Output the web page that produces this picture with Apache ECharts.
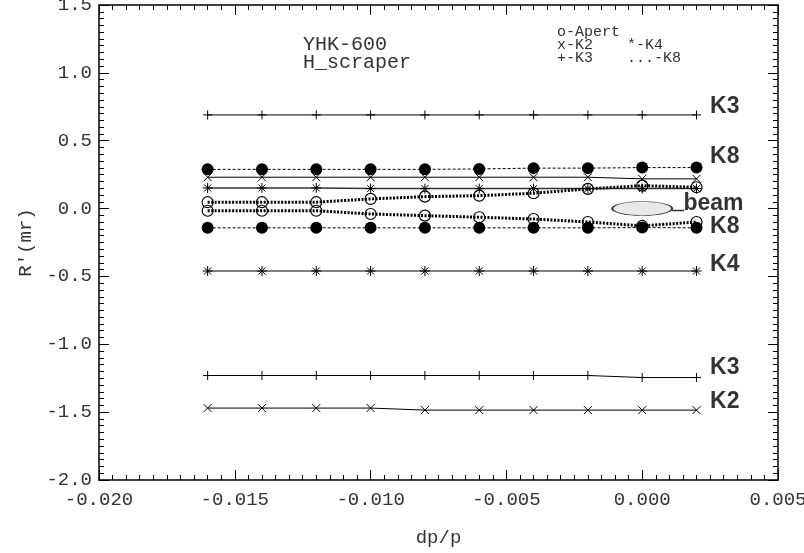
<!DOCTYPE html>
<html>
<head>
<meta charset="utf-8">
<title>YHK-600 H_scraper</title>
<script src="https://cdn.jsdelivr.net/npm/echarts@6/dist/echarts.min.js"></script>
<style>
  html, body { margin: 0; padding: 0; background: #fff; }
  #chart { width: 804px; height: 553px; }
</style>
</head>
<body>
<div id="chart"></div>
<script>
// Momentum deviation values where each envelope was evaluated
const dpp = [-0.016, -0.014, -0.012, -0.010, -0.008, -0.006, -0.004, -0.002, 0.000, 0.002];

// Angular limits R' (mrad) per element, upper and lower branch
const k3Upper = [0.69, 0.69, 0.69, 0.69, 0.69, 0.69, 0.69, 0.69, 0.69, 0.69];
const k3Lower = [-1.23, -1.23, -1.23, -1.23, -1.23, -1.23, -1.23, -1.23, -1.245, -1.245];
const k2Upper = [0.231, 0.231, 0.231, 0.231, 0.231, 0.231, 0.231, 0.231, 0.219, 0.219];
const k2Lower = [-1.47, -1.47, -1.47, -1.47, -1.485, -1.485, -1.485, -1.485, -1.485, -1.485];
const k4Upper = [0.152, 0.152, 0.152, 0.147, 0.147, 0.147, 0.147, 0.147, 0.147, 0.147];
const k4Lower = [-0.46, -0.46, -0.46, -0.46, -0.46, -0.46, -0.46, -0.46, -0.46, -0.46];
const k8Upper = [0.289, 0.289, 0.289, 0.289, 0.289, 0.292, 0.298, 0.298, 0.302, 0.302];
const k8Lower = [-0.142, -0.142, -0.142, -0.142, -0.142, -0.142, -0.142, -0.142, -0.14, -0.142];
const apertUpper = [0.047, 0.047, 0.047, 0.071, 0.088, 0.095, 0.113, 0.145, 0.169, 0.157];
const apertLower = [-0.016, -0.016, -0.016, -0.04, -0.052, -0.064, -0.077, -0.099, -0.128, -0.099];

// Beam ellipse centre and its leader line
const beamCentre = [0.0, 0.0];
const beamLeader = [[0.0011, -0.015], [0.00155, -0.015]];

// Element names written beside the curves, anchored in data units
const tagNames = ['K3', 'K8', 'beam', 'K8', 'K4', 'K3', 'K2'];
const tagAnchors = [
  [0.0025, 0.752], [0.0025, 0.382], [0.00152, 0.038], [0.0025, -0.132],
  [0.0025, -0.412], [0.0025, -1.17], [0.0025, -1.422]
];

// Axis ranges and steps
const xRange = [-0.020, 0.005];
const yRange = [-2.0, 1.5];
const xStep = 0.005;
const yStep = 0.5;

const pairs = (ys) => dpp.map((x, i) => [x, ys[i]]);

const MONO = "'Liberation Mono', 'DejaVu Sans Mono', monospace";
const INK = '#000';
const TXT = '#333';

const SYM_PLUS = 'path://M5,0L5,10M0,5L10,5';
const SYM_CROSS = 'path://M0,0L10,10M10,0L0,10';
const SYM_STAR = 'path://M0,5L10,5M5,0L5,10M1.5,1.5L8.5,8.5M8.5,1.5L1.5,8.5';
const SYM_ELLIPSE = 'path://M0,5A5,5 0 1 1 10,5A5,5 0 1 1 0,5Z';

function strokedLine(name, ys, symbol, size, opts) {
  opts = opts || {};
  return {
    name: name,
    type: 'line',
    data: pairs(ys),
    symbol: symbol,
    symbolSize: size,
    showSymbol: true,
    silent: true,
    z: opts.z || 2,
    lineStyle: { color: opts.lineColor || INK, width: opts.width || 1, type: opts.type || 'solid' },
    itemStyle: opts.itemStyle || { color: 'rgba(0,0,0,0)', borderColor: INK, borderWidth: 1 },
    emphasis: { disabled: true }
  };
}

const filled = { color: INK, borderWidth: 0 };
const hollow = { color: 'rgba(0,0,0,0)', borderColor: INK, borderWidth: 1.2 };

const axisCommon = {
  type: 'value',
  axisLine: { show: true, onZero: false, lineStyle: { color: INK, width: 1.5 } },
  axisTick: { show: true, inside: true, length: 10, lineStyle: { color: INK, width: 1 } },
  minorTick: { show: true, splitNumber: 10, length: 5, lineStyle: { color: INK, width: 1 } },
  splitLine: { show: false },
  minorSplitLine: { show: false }
};

const option = {
  animation: false,
  backgroundColor: '#fff',
  grid: { left: 99, right: 26, top: 5, bottom: 73, containLabel: false, outerBoundsMode: 'none' },
  xAxis: [
    Object.assign({}, axisCommon, {
      position: 'bottom',
      min: xRange[0], max: xRange[1], interval: xStep,
      name: 'dp/p',
      nameLocation: 'middle',
      nameGap: 48,
      nameTextStyle: { fontFamily: MONO, fontSize: 19, color: TXT },
      axisLabel: {
        margin: 10, fontFamily: MONO, fontSize: 19, color: TXT,
        formatter: (v) => v.toFixed(3)
      }
    }),
    Object.assign({}, axisCommon, {
      position: 'top',
      min: xRange[0], max: xRange[1], interval: xStep,
      axisLabel: { show: false }
    })
  ],
  yAxis: [
    Object.assign({}, axisCommon, {
      position: 'left',
      min: yRange[0], max: yRange[1], interval: yStep,
      name: "R'(mr)",
      nameLocation: 'middle',
      nameGap: 62,
      nameRotate: 90,
      nameTextStyle: { fontFamily: MONO, fontSize: 19, color: TXT },
      axisLabel: {
        margin: 7, fontFamily: MONO, fontSize: 19, color: TXT,
        formatter: (v) => v.toFixed(1)
      }
    }),
    Object.assign({}, axisCommon, {
      position: 'right',
      min: yRange[0], max: yRange[1], interval: yStep,
      axisLabel: { show: false }
    })
  ],
  graphic: [
    { type: 'text', left: 303, top: 35, silent: true,
      style: { text: 'YHK-600', font: "20px " + MONO, fill: TXT } },
    { type: 'text', left: 303, top: 53, silent: true,
      style: { text: 'H_scraper', font: "20px " + MONO, fill: TXT } },
    { type: 'text', left: 557, top: 25, silent: true,
      style: { text: 'o-Apert', font: "15px " + MONO, fill: TXT } },
    { type: 'text', left: 557, top: 38, silent: true,
      style: { text: 'x-K2', font: "15px " + MONO, fill: TXT } },
    { type: 'text', left: 627, top: 38, silent: true,
      style: { text: '*-K4', font: "15px " + MONO, fill: TXT } },
    { type: 'text', left: 557, top: 51, silent: true,
      style: { text: '+-K3', font: "15px " + MONO, fill: TXT } },
    { type: 'text', left: 627, top: 51, silent: true,
      style: { text: '...-K8', font: "15px " + MONO, fill: TXT } }
  ],
  series: [
    strokedLine('K3 upper', k3Upper, SYM_PLUS, 9),
    strokedLine('K3 lower', k3Lower, SYM_PLUS, 9),
    strokedLine('K2 upper', k2Upper, SYM_CROSS, 8),
    strokedLine('K2 lower', k2Lower, SYM_CROSS, 8),
    strokedLine('K4 upper', k4Upper, SYM_STAR, 10, { width: 1.5, lineColor: '#333' }),
    strokedLine('K4 lower', k4Lower, SYM_STAR, 10),
    strokedLine('Apert upper', apertUpper, 'circle', 11,
      { width: 3, type: [2, 1.5], itemStyle: hollow, z: 3 }),
    strokedLine('Apert lower', apertLower, 'circle', 11,
      { width: 3, type: [2, 1.5], itemStyle: hollow, z: 3 }),
    strokedLine('K8 upper', k8Upper, 'circle', 12,
      { width: 1, type: [3, 2], itemStyle: filled, z: 4 }),
    strokedLine('K8 lower', k8Lower, 'circle', 12,
      { width: 1, type: [3, 2], itemStyle: filled, z: 4 }),
    {
      name: 'beam',
      type: 'scatter',
      data: [beamCentre],
      symbol: SYM_ELLIPSE,
      symbolKeepAspect: false,
      symbolSize: [60, 14],
      silent: true,
      z: 5,
      itemStyle: {
        color: '#e4e4e4', borderColor: INK, borderWidth: 1,
        decal: {
          symbol: 'rect', symbolSize: 1, color: '#666', backgroundColor: '#f2f2f2',
          dashArrayX: [1, 2], dashArrayY: [1, 2], rotation: 0
        }
      },
      emphasis: { disabled: true }
    },
    {
      name: 'beam leader',
      type: 'line',
      data: beamLeader,
      symbol: 'none',
      silent: true,
      z: 5,
      lineStyle: { color: '#333', width: 1.5 },
      emphasis: { disabled: true }
    },
    {
      name: 'tags',
      type: 'scatter',
      data: tagAnchors.map((p, i) => ({ value: p, name: tagNames[i] })),
      symbolSize: 0,
      silent: true,
      z: 6,
      label: {
        show: true,
        position: 'right',
        distance: 0,
        formatter: '{b}',
        fontFamily: "'Liberation Sans', Arial, sans-serif",
        fontWeight: 'bold',
        fontSize: 23,
        color: INK
      },
      emphasis: { disabled: true }
    }
  ]
};

const chart = echarts.init(document.getElementById('chart'), null, { renderer: 'canvas' });
chart.setOption(option);
</script>
</body>
</html>
